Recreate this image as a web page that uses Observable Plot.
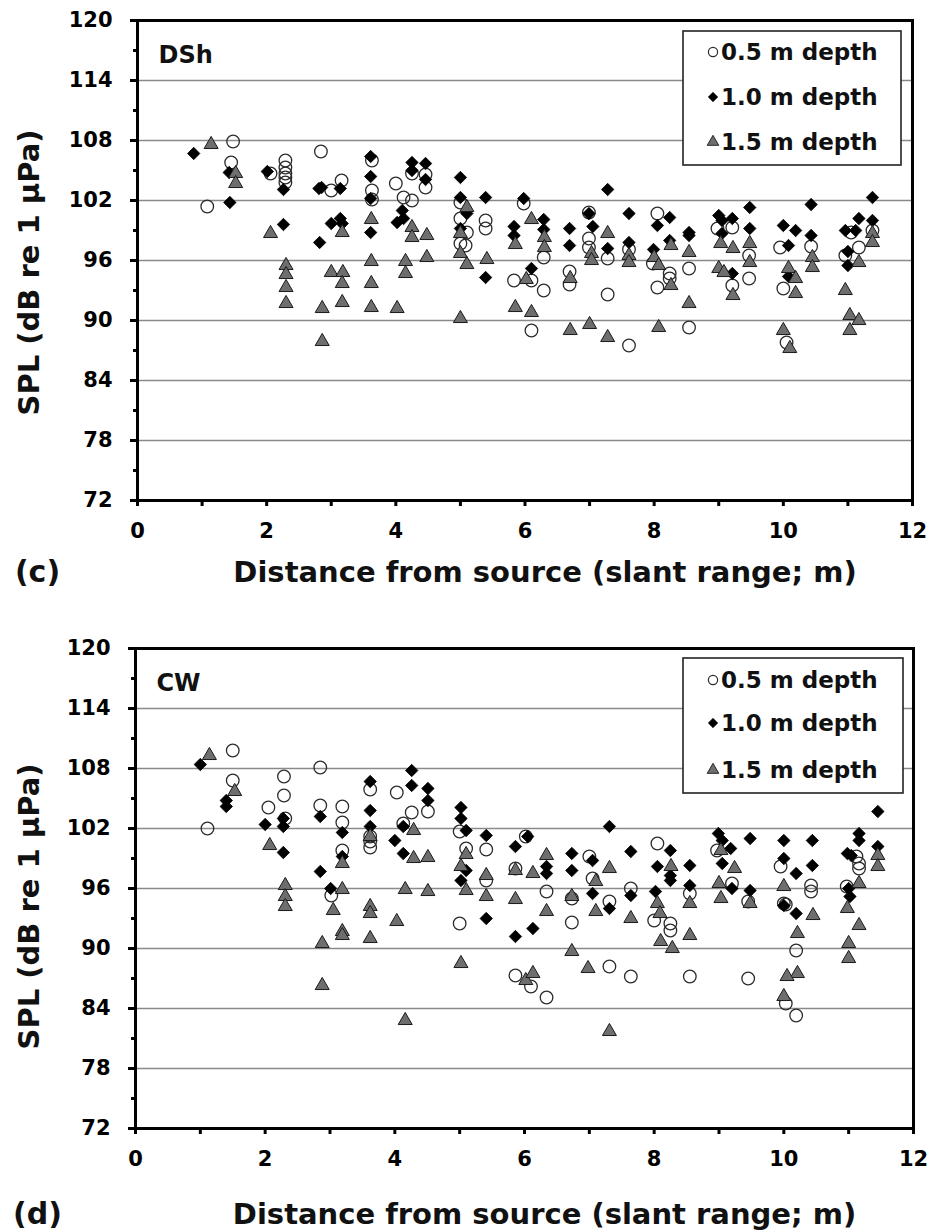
<!DOCTYPE html>
<html>
<head>
<meta charset="utf-8">
<script src="https://cdn.jsdelivr.net/npm/d3@7"></script>
<script src="https://cdn.jsdelivr.net/npm/@observablehq/plot@0.6"></script>
<style>
  html, body { margin: 0; padding: 0; background: #fff; }
  #wrap { width: 931px; height: 1232px; overflow: hidden; }
  #wrap svg { display: block; }
</style>
</head>
<body>
<div id="wrap"></div>
<script>
// ---------- data: [distance (m), SPL (dB re 1 µPa)] ----------
const seriesNames = ["0.5 m depth", "1.0 m depth", "1.5 m depth"];
const panelNames = ["DSh", "CW"];
const panelLetters = ["(c)", "(d)"];
const xTitle = "Distance from source (slant range; m)";
const yTitle = "SPL (dB re 1 µPa)";
const xTickValues = [0,1,2,3,4,5,6,7,8,9,10,11,12];
const yMajorTicks = [72,78,84,90,96,102,108,114,120];
const yMinorTicks = [75,81,87,93,99,105,111,117];
const gridValues = [78,84,90,96,102,108,114];

// Panel (c) DSh
const dsh05 = [[1.08,101.4],[1.48,107.9],[1.45,105.8],[2.06,104.7],[2.29,106.0],[2.29,105.3],[2.29,104.7],[2.29,104.3],[2.29,103.8],[2.84,106.9],[3.0,103.0],[3.16,104.0],[3.63,106.0],[3.63,103.0],[3.63,102.1],[4.0,103.7],[4.12,102.3],[4.25,102.0],[4.25,104.7],[4.46,104.6],[4.46,103.3],[5.0,101.8],[5.0,100.2],[5.0,97.7],[5.08,97.5],[5.1,98.8],[5.39,100.0],[5.39,99.2],[5.83,94.0],[5.98,101.7],[6.1,94.0],[6.1,89.0],[6.29,96.3],[6.29,93.0],[6.69,94.9],[6.69,93.6],[6.99,100.8],[6.99,98.2],[6.99,97.3],[7.28,96.2],[7.28,92.6],[7.61,97.1],[7.61,87.5],[8.05,100.7],[7.98,95.7],[8.05,93.3],[8.24,94.7],[8.24,94.2],[8.54,95.2],[8.54,89.3],[8.98,99.2],[9.21,99.3],[9.21,93.5],[9.47,96.5],[9.47,94.2],[9.95,97.3],[10.0,93.2],[10.05,87.8],[10.43,97.4],[10.96,96.5],[11.17,97.3],[11.05,98.8],[11.38,99.0]];
const dsh10 = [[0.87,106.7],[1.42,104.8],[1.43,101.8],[2.01,104.9],[2.26,103.1],[2.26,99.6],[2.81,103.2],[2.85,103.3],[2.82,97.8],[3.0,99.7],[3.14,103.2],[3.14,100.2],[3.17,99.7],[3.61,106.4],[3.61,104.4],[3.61,102.2],[3.61,98.8],[4.02,99.8],[4.1,101.0],[4.12,100.2],[4.25,105.8],[4.25,105.0],[4.46,105.7],[4.46,104.1],[5.0,104.3],[5.0,102.3],[5.0,99.2],[5.1,100.7],[5.39,102.3],[5.39,94.3],[5.83,99.4],[5.83,98.5],[5.98,102.2],[6.1,95.2],[6.29,100.1],[6.29,99.1],[6.69,99.2],[6.69,97.5],[6.99,100.7],[7.05,99.4],[7.28,103.1],[7.28,97.2],[7.61,100.7],[7.61,97.8],[7.99,97.1],[8.05,99.5],[8.24,100.3],[8.24,98.0],[8.54,98.8],[8.54,98.5],[9.0,100.5],[9.05,100.0],[9.05,98.7],[9.21,100.2],[9.21,94.7],[9.48,101.3],[9.48,99.2],[10.0,99.5],[10.08,97.5],[10.08,94.4],[10.19,99.0],[10.43,101.6],[10.43,98.5],[10.96,99.0],[11.0,96.9],[11.0,95.5],[11.17,100.2],[11.12,99.0],[11.38,102.3],[11.38,100.0]];
const dsh15 = [[1.14,107.6],[1.52,104.7],[1.52,103.7],[2.06,98.7],[2.3,95.5],[2.3,94.6],[2.3,93.3],[2.3,91.7],[2.86,91.2],[2.86,87.9],[3.0,94.8],[3.17,98.8],[3.18,94.8],[3.17,93.7],[3.17,91.8],[3.62,100.1],[3.62,95.9],[3.62,93.7],[3.62,91.3],[4.02,91.2],[4.15,95.9],[4.15,94.7],[4.25,99.3],[4.25,98.3],[4.48,98.5],[4.48,96.3],[5.0,98.7],[5.0,96.7],[5.1,101.3],[5.1,95.6],[5.0,90.2],[5.41,96.1],[5.85,97.6],[5.85,91.3],[6.02,94.1],[6.1,100.1],[6.1,90.8],[6.3,98.3],[6.3,97.3],[6.7,94.2],[6.7,89.0],[7.03,96.7],[7.03,96.0],[7.0,89.6],[7.28,98.7],[7.28,88.3],[7.61,96.5],[7.61,95.8],[8.0,96.3],[8.07,95.5],[8.07,89.3],[8.26,97.5],[8.26,93.5],[8.54,96.8],[8.54,91.7],[9.03,97.7],[9.0,95.2],[9.08,94.8],[9.22,97.2],[9.22,92.5],[9.48,97.7],[9.48,95.8],[10.08,95.2],[10.0,89.0],[10.1,87.2],[10.19,94.2],[10.19,92.7],[10.45,96.3],[10.45,95.3],[10.96,93.0],[11.03,90.5],[11.03,89.0],[11.17,95.8],[11.17,90.0],[11.38,98.7],[11.38,97.8]];

// Panel (d) CW
const cw05 = [[1.11,102.0],[1.50,109.8],[1.50,106.8],[2.05,104.1],[2.29,107.2],[2.29,105.3],[2.31,103.0],[2.85,108.1],[2.85,104.3],[3.02,95.3],[3.19,104.2],[3.19,102.6],[3.19,99.8],[3.62,105.9],[3.62,101.2],[3.62,100.7],[3.62,100.1],[4.03,105.6],[4.13,102.5],[4.26,103.6],[4.51,103.7],[5.0,101.7],[5.1,100.0],[5.0,92.5],[5.41,99.9],[5.41,96.8],[5.86,98.0],[5.86,87.3],[6.02,101.2],[6.1,86.2],[6.34,95.7],[6.34,85.1],[6.73,95.0],[6.73,92.6],[7.0,99.2],[7.05,97.0],[7.31,94.7],[7.31,88.2],[7.64,96.0],[7.64,87.2],[8.05,100.5],[8.0,92.8],[8.25,92.5],[8.25,91.8],[8.55,95.5],[8.55,87.2],[8.97,99.8],[9.2,96.5],[9.45,94.7],[9.45,87.0],[9.95,98.2],[10.0,94.5],[10.03,94.4],[10.19,89.8],[10.03,84.5],[10.19,83.3],[10.42,96.3],[10.42,95.7],[10.97,96.2],[11.12,99.2],[11.16,98.5],[11.16,98.0]];
const cw10 = [[1.0,108.4],[1.40,104.8],[1.40,104.2],[2.0,102.4],[2.28,103.0],[2.28,102.2],[2.28,99.6],[2.85,103.2],[2.85,97.7],[3.01,96.0],[3.19,101.6],[3.19,99.2],[3.62,106.7],[3.62,103.8],[3.62,102.2],[4.0,100.8],[4.13,102.2],[4.13,99.5],[4.26,107.8],[4.26,106.3],[4.51,106.0],[4.51,104.8],[5.02,104.1],[5.02,103.0],[5.1,101.8],[5.02,96.8],[5.1,97.8],[5.41,101.3],[5.41,93.0],[5.86,100.2],[5.86,91.2],[6.05,101.2],[6.13,92.0],[6.34,98.2],[6.34,97.5],[6.73,99.5],[6.73,97.8],[7.05,98.8],[7.05,95.5],[7.31,102.2],[7.31,94.0],[7.64,99.7],[7.64,95.3],[8.05,98.2],[8.02,95.7],[8.25,99.8],[8.25,97.3],[8.25,96.8],[8.55,98.3],[8.55,96.3],[8.99,101.5],[9.05,100.8],[9.18,100.0],[9.05,98.5],[9.2,96.0],[9.48,101.0],[9.48,95.8],[10.0,100.8],[10.0,99.0],[10.19,97.5],[10.19,93.5],[10.0,94.3],[10.44,100.8],[10.44,98.3],[10.98,99.5],[11.0,96.0],[11.02,95.2],[11.04,99.3],[11.16,101.5],[11.16,100.8],[11.45,103.7],[11.45,100.2]];
const cw15 = [[1.14,109.3],[1.53,105.7],[2.07,100.3],[2.31,96.3],[2.31,95.2],[2.31,94.2],[2.88,90.5],[2.88,86.3],[3.05,93.8],[3.19,98.5],[3.19,95.9],[3.19,91.7],[3.19,91.3],[3.62,101.2],[3.62,94.2],[3.62,93.5],[3.62,91.0],[4.03,92.7],[4.16,95.9],[4.16,82.8],[4.29,101.8],[4.29,99.0],[4.51,99.1],[4.51,95.7],[5.1,99.4],[5.02,98.2],[5.1,95.8],[5.02,88.5],[5.41,97.3],[5.41,95.2],[5.86,97.8],[5.86,94.9],[6.13,97.5],[6.02,86.8],[6.13,87.5],[6.34,99.3],[6.34,93.7],[6.73,95.2],[6.73,89.7],[7.1,96.7],[7.1,93.7],[6.98,88.0],[7.31,98.0],[7.31,81.7],[7.64,93.0],[8.05,94.5],[8.09,93.5],[8.26,98.2],[8.1,90.7],[8.28,90.0],[8.55,94.5],[8.55,91.3],[9.03,99.8],[9.24,98.0],[9.0,96.5],[9.03,95.0],[9.48,94.5],[10.0,96.2],[10.21,91.5],[10.21,87.5],[10.05,87.2],[10.0,85.2],[10.45,93.3],[10.98,94.0],[11.0,90.5],[11.0,89.0],[11.16,96.5],[11.16,92.3],[11.45,99.3],[11.45,98.2]];

// ---------- styles ----------
const FONT = "'DejaVu Sans', 'Liberation Sans', Arial, sans-serif";
const circleStyle = {symbol: "circle", r: 6.3, fill: "none", stroke: "#2b2b2b", strokeWidth: 1.3};
const diamondStyle = {symbol: "diamond2", r: 5.6, fill: "#000", stroke: "#000", strokeWidth: 0.8};
const triangleStyle = {symbol: "triangle", r: 5.2, fill: "#6e6e6e", stroke: "#1a1a1a", strokeWidth: 1};

function makePanel(cfg) {
  const d05 = cfg.s05.map(([x, y]) => ({x, y}));
  const d10 = cfg.s10.map(([x, y]) => ({x, y}));
  const d15 = cfg.s15.map(([x, y]) => ({x, y}));
  const svg = Plot.plot({
    width: 931,
    height: 616,
    marginTop: cfg.mt,
    marginBottom: cfg.mb,
    marginLeft: cfg.ml,
    marginRight: cfg.mr,
    style: {fontFamily: FONT, fontWeight: "bold", fontSize: "21px", color: "#000", background: "#fff", overflow: "visible"},
    x: {domain: [0, 12]},
    y: {domain: [72, 120]},
    marks: [
      Plot.ruleY(gridValues, {stroke: "#8a8a8a", strokeWidth: 1.3}),
      Plot.dot(d05, {x: "x", y: "y", ...circleStyle}),
      Plot.dot(d10, {x: "x", y: "y", ...diamondStyle}),
      Plot.dot(d15, {x: "x", y: "y", ...triangleStyle}),
      Plot.axisX({ticks: xTickValues, tickSize: 6, tickPadding: 17, strokeWidth: 3, label: null,
                  tickFormat: d => (d % 2 === 0 ? String(d) : ""), fontSize: 21, fontWeight: "bold"}),
      Plot.axisY({ticks: yMajorTicks, tickSize: 7, tickPadding: 18, strokeWidth: 3, label: null,
                  fontSize: 21, fontWeight: "bold"}),
      Plot.axisY({ticks: yMinorTicks, tickSize: 4, strokeWidth: 3, label: null, text: null}),
      Plot.frame({stroke: "#000", strokeWidth: 3}),
      Plot.text([cfg.name], {text: d => d, frameAnchor: "top-left", dx: 21, dy: 35, textAnchor: "start",
                             lineAnchor: "middle", fontSize: 24, fontWeight: "bold", fill: "#111"}),
      Plot.text([xTitle], {text: d => d, frameAnchor: "bottom", dx: 20, dy: cfg.titleDy, textAnchor: "middle",
                           lineAnchor: "middle", fontSize: 29, fontWeight: "bold", fill: "#111"}),
      Plot.text([cfg.letter], {text: d => d, frameAnchor: "bottom-left", dx: cfg.letterDx, dy: cfg.titleDy,
                               textAnchor: "middle", lineAnchor: "middle", fontSize: 30, fontWeight: "bold", fill: "#111"}),
      Plot.text([yTitle], {text: d => d, frameAnchor: "left", dx: cfg.yTitleDx, dy: cfg.yTitleDy, rotate: -90,
                           textAnchor: "middle", lineAnchor: "middle", fontSize: 29, fontWeight: "bold", fill: "#111"})
    ]
  });

  // legend box (top right, inside the frame)
  const lg = d3.select(svg).append("g").attr("font-family", FONT).attr("font-weight", "bold");
  const L = cfg.legend;
  lg.append("rect").attr("x", L.x).attr("y", L.y).attr("width", L.w).attr("height", L.h)
    .attr("fill", "#fff").attr("stroke", "#222").attr("stroke-width", 1.6);
  const legendSymbols = [
    {type: d3.symbolCircle, size: Math.PI * 4.6 * 4.6, fill: "none", stroke: "#2b2b2b", sw: 1.2},
    {type: d3.symbolDiamond2, size: Math.PI * 4.3 * 4.3, fill: "#000", stroke: "#000", sw: 0.6},
    {type: d3.symbolTriangle, size: Math.PI * 4.3 * 4.3, fill: "#6e6e6e", stroke: "#1a1a1a", sw: 0.9}
  ];
  seriesNames.forEach((name, i) => {
    const cy = L.y + L.rows[i];
    const s = legendSymbols[i];
    lg.append("path").attr("d", d3.symbol(s.type, s.size)())
      .attr("transform", `translate(${L.x + 30},${cy})`)
      .attr("fill", s.fill).attr("stroke", s.stroke).attr("stroke-width", s.sw);
    lg.append("text").attr("x", L.x + 38).attr("y", cy).attr("dy", "0.36em")
      .attr("text-anchor", "start")
      .attr("font-size", 23).attr("fill", "#111").text(name);
  });
  return svg;
}

const wrap = document.getElementById("wrap");
wrap.appendChild(makePanel({
  s05: dsh05, s10: dsh10, s15: dsh15, name: panelNames[0], letter: panelLetters[0],
  mt: 20, mb: 116, ml: 137, mr: 19, titleDy: 72, letterDx: -100, yTitleDx: -108, yTitleDy: 12,
  legend: {x: 683, y: 31, w: 218, h: 134, rows: [21, 66, 111]}
}));
wrap.appendChild(makePanel({
  s05: cw05, s10: cw10, s15: cw15, name: panelNames[1], letter: panelLetters[1],
  mt: 32, mb: 104, ml: 135, mr: 18, titleDy: 86, letterDx: -98, yTitleDx: -106, yTitleDy: 18,
  legend: {x: 683, y: 42, w: 220, h: 135, rows: [22, 65, 112]}
}));
</script>
</body>
</html>
